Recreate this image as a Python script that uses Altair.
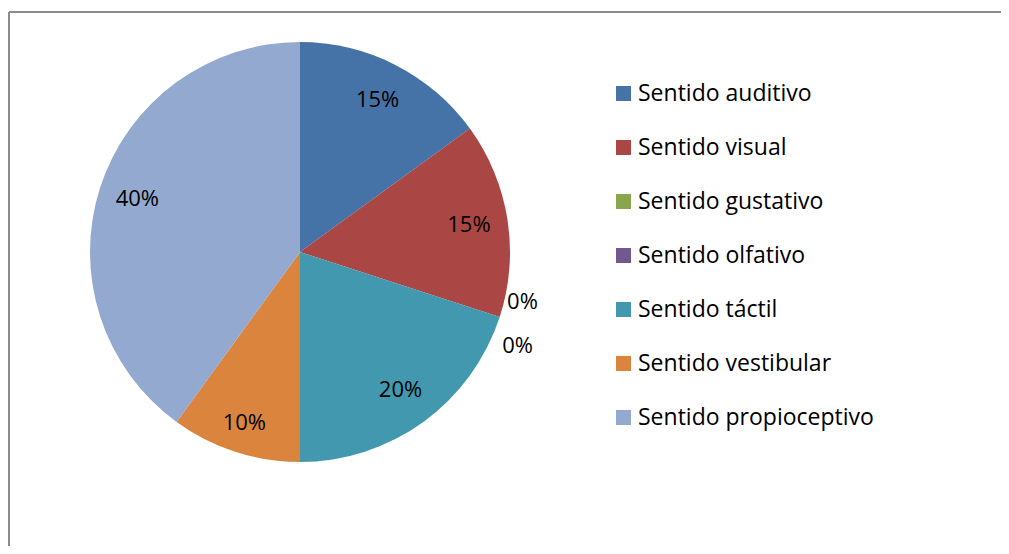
import altair as alt
import pandas as pd

categories = ["Sentido auditivo", "Sentido visual", "Sentido gustativo", "Sentido olfativo",
              "Sentido táctil", "Sentido vestibular", "Sentido propioceptivo"]
values = [15, 15, 0, 0, 20, 10, 40]
colors = ["#4572A7", "#AA4643", "#89A54E", "#71588F", "#4198AF", "#DB843D", "#93A9CF"]

df = pd.DataFrame({"cat": categories, "value": values, "idx": list(range(len(values)))})
df["label"] = [f"{v}%" for v in values]
frame_df = pd.DataFrame({"k": [0]})

FONT = "Open Sans"
CX, CY, R = 291, 240, 210
W, H = 992, 534

base = alt.Chart(df).transform_joinaggregate(
    total="sum(value)"
).transform_window(
    cum="sum(value)", sort=[alt.SortField("idx")], frame=[None, 0]
).transform_calculate(
    start="(datum.cum - datum.value) / datum.total * 2 * PI",
    end="datum.cum / datum.total * 2 * PI",
    mid="(datum.cum - datum.value / 2) / datum.total * 2 * PI",
)

color = alt.Color("cat:N", scale=alt.Scale(domain=categories, range=colors),
                  sort=categories,
                  legend=alt.Legend(title=None, orient="none", legendX=603, legendY=70,
                                    symbolType="square", symbolSize=225, symbolStrokeWidth=0,
                                    labelFont=FONT, labelFontSize=23, labelColor="#000000",
                                    rowPadding=30, labelOffset=3, labelLimit=400,
                                    symbolOpacity=1))

arcs = base.mark_arc(radius=R, stroke=None).encode(
    theta=alt.Theta("start:Q", scale=None),
    theta2="end:Q",
    color=color,
    x=alt.value(CX), y=alt.value(CY),
)

# label placement: zero-size slices are pushed apart outside the pie
labels = base.transform_calculate(
    lt="datum.mid + (datum.idx == 2 ? -0.093 : (datum.idx == 3 ? 0.093 : 0))",
    lr="datum.idx == 2 ? 228 : (datum.idx == 3 ? 237 : (datum.idx == 5 ? 180 : 171))",
).mark_text(font=FONT, fontSize=22, color="#000000", align="center", baseline="middle").encode(
    theta=alt.Theta("lt:Q", scale=None),
    radius=alt.Radius("lr:Q", scale=None),
    text="label:N",
    x=alt.value(CX), y=alt.value(CY),
)

top_line = alt.Chart(frame_df).mark_rule(color="#8c8c8c", strokeWidth=2).encode(
    x=alt.value(0), x2=alt.value(W + 20), y=alt.value(0)
)
left_line = alt.Chart(frame_df).mark_rule(color="#8c8c8c", strokeWidth=2).encode(
    x=alt.value(0), y=alt.value(0), y2=alt.value(H + 20)
)

chart = alt.layer(top_line, left_line, arcs, labels).properties(
    width=W, height=H,
    autosize=alt.AutoSizeParams(type="none"),
    padding={"left": 1, "top": 4, "right": 0, "bottom": 0},
).configure_view(stroke=None)

chart.save("out.html", embed_options={"renderer": "svg", "actions": False})
